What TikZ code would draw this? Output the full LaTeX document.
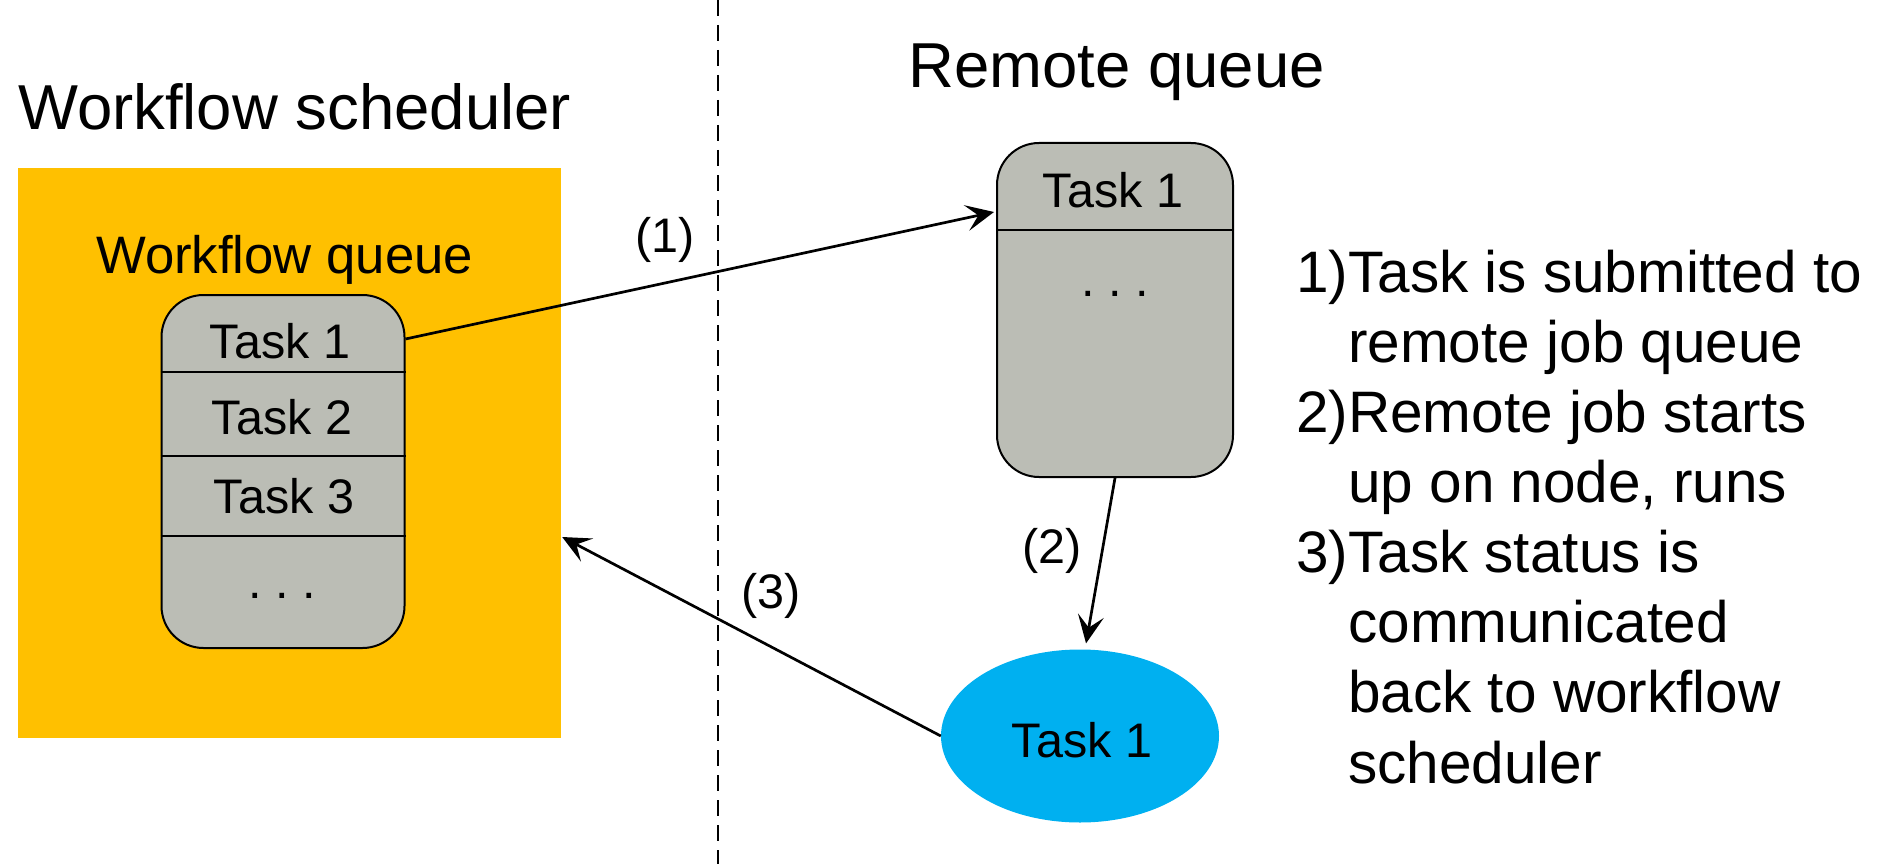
\documentclass[tikz,border=0pt]{standalone}
\usepackage{fontspec}
\setmainfont{Liberation Sans}
\usetikzlibrary{arrows.meta,shapes.geometric,calc}
\definecolor{wfyellow}{HTML}{FFC000}
\definecolor{taskgray}{RGB}{187,189,181}
\definecolor{runblue}{HTML}{00B0F0}
\tikzset{
  qbox/.style={draw=black, line width=2pt, fill=taskgray, rounded corners=42pt, inner sep=0pt},
  divider/.style={line width=2.5pt},
  conn/.style={line width=2.7pt, -{Stealth[length=28pt,width=26pt,inset=12pt]}},
  titletxt/.style={font=\fontsize{63.5}{76}\selectfont, inner sep=0pt},
  labeltxt/.style={font=\fontsize{52.7}{63}\selectfont, inner sep=0pt},
  tasktxt/.style={font=\fontsize{48.5}{58}\selectfont, inner sep=0pt},
  listtxt/.style={font=\fontsize{58.5}{70.1}\selectfont, inner sep=0pt, align=left},
  sep/.style={line width=2pt, dash pattern=on 16pt off 9pt},
}
\begin{document}
\begin{tikzpicture}[x=1pt,y=-1pt]
\useasboundingbox (0,0) rectangle (1885,864);
% separator
\coordinate (septop) at (718,0);
\coordinate (sepbot) at (718,864);
\draw[sep] (septop) -- (sepbot);
% titles
\node[titletxt, anchor=base west] (wstitle) at (18,130) {Workflow scheduler};
\node[titletxt, anchor=base west] (rqtitle) at (908,88) {Remote queue};
% workflow scheduler area
\node[fill=wfyellow, minimum width=543pt, minimum height=570pt, inner sep=0pt] (ws) at (289.5,453) {};
\node[labeltxt, anchor=base west] (wqlabel) at (96,273) {Workflow queue};
\node[qbox, minimum width=243pt, minimum height=353pt] (wq) at (283,471.5) {};
\draw[divider] (wq.west |- 0,372) -- (wq.east |- 0,372);
\draw[divider] (wq.west |- 0,456) -- (wq.east |- 0,456);
\draw[divider] (wq.west |- 0,536) -- (wq.east |- 0,536);
\node[tasktxt, anchor=base] (wt1) at (280,358) {Task 1};
\node[tasktxt, anchor=base] (wt2) at (282,434) {Task 2};
\node[tasktxt, anchor=base] (wt3) at (284,513) {Task 3};
\node[tasktxt, anchor=base] (wtd) at (282,598) {.\ .\ .};
% remote queue
\node[qbox, minimum width=236pt, minimum height=334pt] (rq) at (1115,310) {};
\draw[divider] (rq.west |- 0,230) -- (rq.east |- 0,230);
\node[tasktxt, anchor=base] (rt1) at (1113,207) {Task 1};
\node[tasktxt, anchor=base] (rtd) at (1115,296) {.\ .\ .};
% running task
\node[ellipse, fill=runblue, minimum width=278pt, minimum height=173pt, inner sep=0pt] (run) at (1080,736) {};
\node[tasktxt, anchor=base] (runt) at (1082,757) {Task 1};
% connectors
\draw[conn] (wq.east |- 0,339) -- ([yshift=98pt, xshift=-2pt]rq.west);
\draw[conn, shorten >=6pt] (rq.south) -- ([xshift=5pt]run.north);
\draw[conn] (run.west) -- ([yshift=-84pt, xshift=1pt]ws.east);
\node[tasktxt] (l1) at (665,240) {(1)};
\node[tasktxt] (l2) at (1052,551) {(2)};
\node[tasktxt] (l3) at (771,596) {(3)};
% list
\node[listtxt, anchor=base west] (list) at (1296,783) {1)Task is submitted to\\
\phantom{1)}remote job queue\\
2)Remote job starts\\
\phantom{2)}up on node, runs\\
3)Task status is\\
\phantom{3)}communicated\\
\phantom{3)}back to workflow\\
\phantom{3)}scheduler};
\end{tikzpicture}
\end{document}
